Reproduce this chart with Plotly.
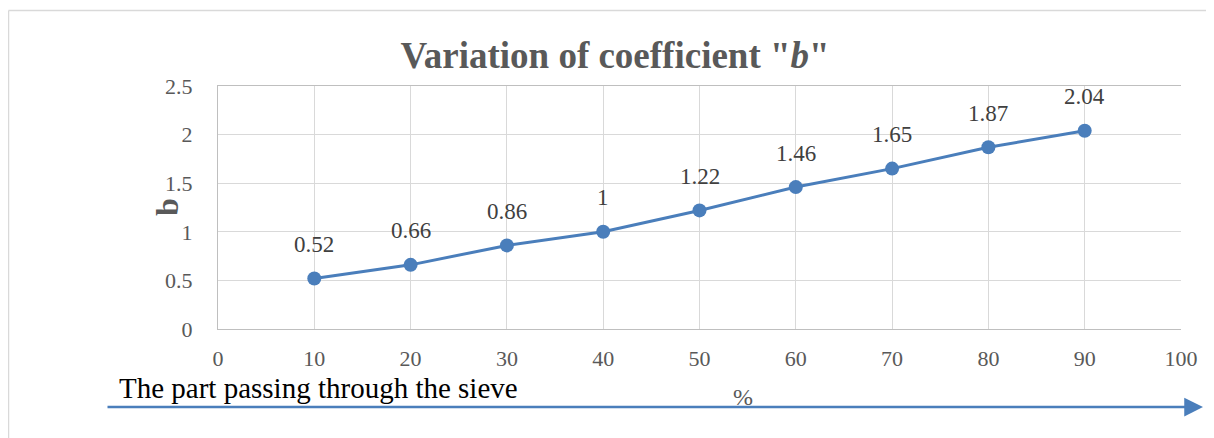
import plotly.graph_objects as go

passing_pct = [10, 20, 30, 40, 50, 60, 70, 80, 90]
b_values = [0.52, 0.66, 0.86, 1, 1.22, 1.46, 1.65, 1.87, 2.04]
b_labels = ["0.52", "0.66", "0.86", "1", "1.22", "1.46", "1.65", "1.87", "2.04"]
x_ticks = [0, 10, 20, 30, 40, 50, 60, 70, 80, 90, 100]
y_ticks = [0, 0.5, 1, 1.5, 2, 2.5]

SERIF = "Liberation Serif, Times New Roman, serif"
BLUE = "#4a7ebb"
GREY = "#595959"

# page body adds an 8px offset, so positions below are in figure pixels
OFF = 8
W, H = 1214, 438
L, T = 218 - OFF, 86 - OFF
R = W - (1181 - OFF)
B = H - (329 - OFF)
pw, ph = W - L - R, H - T - B


def px_x(p):
    return (p - OFF - L) / pw


def px_y(p):
    return (H - B - (p - OFF)) / ph


fig = go.Figure()
fig.add_trace(
    go.Scatter(
        x=passing_pct,
        y=b_values,
        mode="lines+markers",
        line=dict(color=BLUE, width=3),
        marker=dict(color=BLUE, size=14),
        cliponaxis=False,
        hoverinfo="x+y",
    )
)

for xv, yv, lab in zip(passing_pct, b_values, b_labels):
    fig.add_annotation(
        x=xv, y=yv, text=lab, showarrow=False, yshift=34,
        font=dict(family=SERIF, size=23, color="#404040"),
    )

fig.update_layout(
    width=W,
    height=H,
    margin=dict(l=L, r=R, t=T, b=B),
    paper_bgcolor="white",
    plot_bgcolor="white",
    showlegend=False,
    font=dict(family=SERIF, color=GREY),
    title=dict(
        text='Variation of coefficient "<i>b</i>"',
        font=dict(family=SERIF, size=37, color=GREY, weight="bold"),
        x=0.5,
        xanchor="center",
        y=1 - (55 - OFF) / H,
        yanchor="middle",
    ),
    xaxis=dict(
        range=[0, 100],
        tickvals=x_ticks,
        ticktext=[str(v) for v in x_ticks],
        showgrid=True,
        gridcolor="#d9d9d9",
        gridwidth=1,
        showline=True,
        linecolor="#bfbfbf",
        linewidth=1,
        mirror=True,
        zeroline=False,
        ticks="",
        ticklabelstandoff=10,
        tickfont=dict(family=SERIF, size=22, color=GREY),
    ),
    yaxis=dict(
        range=[0, 2.5],
        tickvals=y_ticks,
        ticktext=["0", "0.5", "1", "1.5", "2", "2.5"],
        showgrid=True,
        gridcolor="#d9d9d9",
        gridwidth=1,
        showline=True,
        linecolor="#bfbfbf",
        linewidth=1,
        zeroline=False,
        ticks="",
        ticklabelstandoff=20,
        tickfont=dict(family=SERIF, size=22, color=GREY),
    ),
)

# outer chart frame (left and top edges visible)
fig.add_shape(
    type="line", xref="paper", yref="paper",
    x0=px_x(8.5), x1=px_x(8.5), y0=px_y(10.5), y1=px_y(H + 20),
    line=dict(color="#d9d9d9", width=1.5),
)
fig.add_shape(
    type="line", xref="paper", yref="paper",
    x0=px_x(8.5), x1=px_x(W + 20), y0=px_y(10.5), y1=px_y(10.5),
    line=dict(color="#d9d9d9", width=1.5),
)

# y axis title
fig.add_annotation(
    text="<b>b</b>", xref="paper", yref="paper",
    x=px_x(147), y=px_y(207), showarrow=False, textangle=-90,
    font=dict(family=SERIF, size=32, color=GREY),
)

# x axis caption and arrow
fig.add_annotation(
    text="The part passing through the sieve", xref="paper", yref="paper",
    x=px_x(117), y=px_y(388), xanchor="left", yanchor="middle", showarrow=False,
    font=dict(family=SERIF, size=29, color="#000000"),
)
fig.add_annotation(
    text="%", xref="paper", yref="paper",
    x=px_x(743), y=px_y(397), xanchor="center", yanchor="middle", showarrow=False,
    font=dict(family=SERIF, size=24, color=GREY),
)
fig.add_annotation(
    text="", xref="paper", yref="paper", axref="pixel", ayref="pixel",
    x=px_x(1203), y=px_y(407), ax=-1097, ay=0,
    showarrow=True, arrowhead=2, arrowsize=1.5, arrowwidth=2.5, arrowcolor=BLUE,
)

fig.write_html("out.html")
